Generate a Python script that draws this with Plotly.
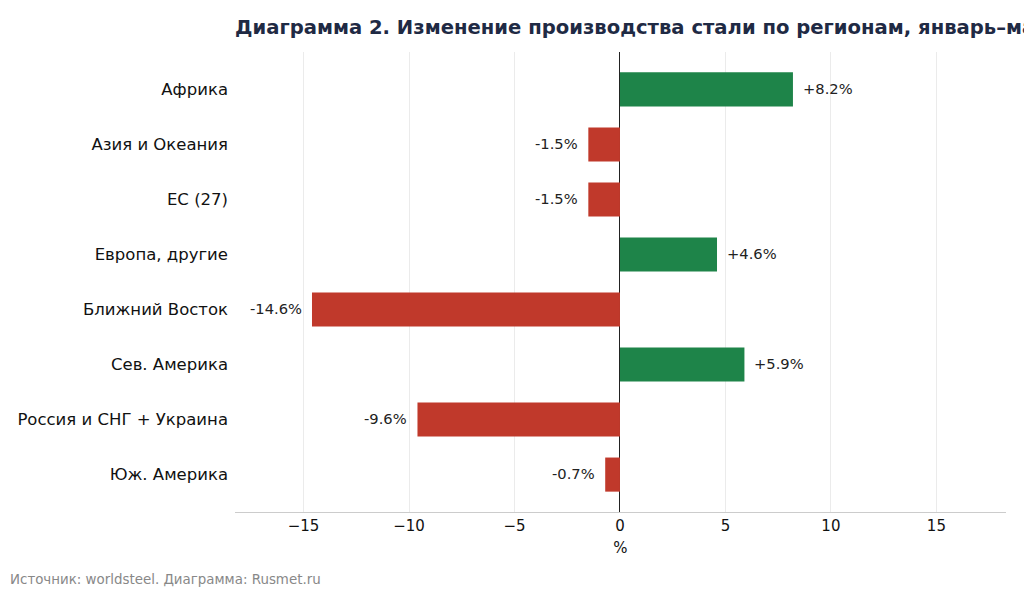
import plotly.graph_objects as go

regions = ["Африка", "Азия и Океания", "ЕС (27)", "Европа, другие",
           "Ближний Восток", "Сев. Америка", "Россия и СНГ + Украина", "Юж. Америка"]
changes = [8.2, -1.5, -1.5, 4.6, -14.6, 5.9, -9.6, -0.7]
x_ticks = [-15, -10, -5, 0, 5, 10, 15]

GREEN = "#1e8449"
RED = "#c0392b"
colors = [GREEN if v >= 0 else RED for v in changes]
labels = [f"+{v:.1f}%" if v >= 0 else f"{v:.1f}%" for v in changes]
FONT = "DejaVu Sans"

W, H = 1024, 591
ML, MR, MT, MB = 235, 18, 52, 79
PW, PH = W - ML - MR, H - MT - MB

fig = go.Figure(go.Bar(
    x=changes, y=regions, orientation="h",
    marker=dict(color=colors, line=dict(width=0)),
    width=0.62, hoverinfo="skip",
))

for r, v, t in zip(regions, changes, labels):
    fig.add_annotation(
        x=v, y=r, text=t, showarrow=False,
        xanchor="left" if v >= 0 else "right",
        xshift=8 if v >= 0 else -8, yshift=1,
        font=dict(family=FONT, size=14.7, color="#222222"),
    )

fig.add_annotation(
    x=-(ML - 8) / PW, y=-((589 - 512) / PH), xref="paper", yref="paper",
    xanchor="left", yanchor="bottom", showarrow=False,
    text="Источник: worldsteel. Диаграмма: Rusmet.ru",
    font=dict(family=FONT, size=13.4, color="#888888"),
)

fig.update_layout(
    width=W, height=H,
    margin=dict(l=ML, r=MR, t=MT, b=MB),
    paper_bgcolor="white", plot_bgcolor="white",
    showlegend=False,
    title=dict(
        text="<b>Диаграмма 2. Изменение производства стали по регионам, январь–май 2024 г.</b>",
        x=ML / W, xanchor="left", y=1 - 27 / H, yanchor="middle",
        font=dict(family=FONT, size=19.6, color="#1f2a44"),
    ),
    xaxis=dict(
        range=[-18.25, 18.3], tickvals=x_ticks,
        tickfont=dict(family=FONT, size=15, color="#111111"),
        showgrid=True, gridcolor="#ebebeb", gridwidth=1,
        zeroline=True, zerolinecolor="#222222", zerolinewidth=1,
        showline=True, linecolor="#cccccc", linewidth=1,
        ticks="", title=dict(text="%", font=dict(family=FONT, size=15, color="#111111"), standoff=8),
        fixedrange=True,
    ),
    yaxis=dict(
        categoryorder="array", categoryarray=regions,
        range=[7.68, -0.68], showgrid=False, zeroline=False, showline=False,
        ticks="", ticklabelstandoff=6,
        tickfont=dict(family=FONT, size=16.5, color="#111111"),
        fixedrange=True,
    ),
)

fig.write_html("out.html")
